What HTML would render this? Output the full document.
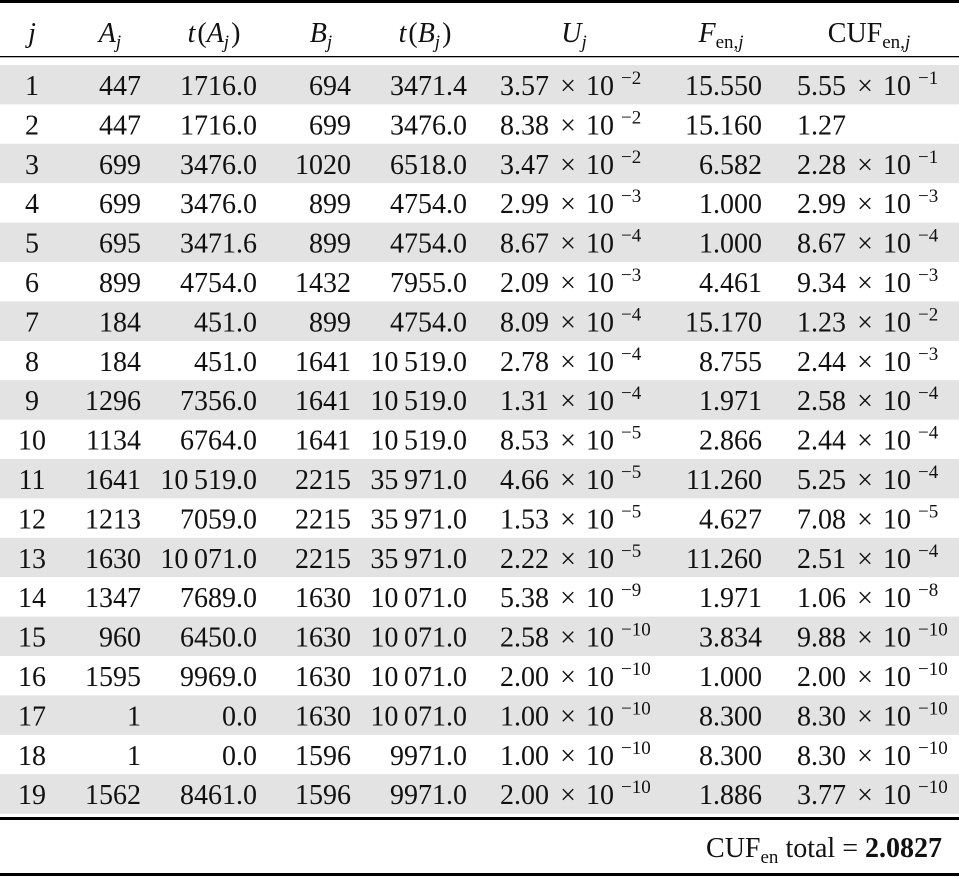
<!DOCTYPE html>
<html><head><meta charset="utf-8"><style>
html,body{margin:0;padding:0;background:#fff}
svg{display:block}
text{font-family:"Liberation Serif",serif;font-size:28px;fill:#111}
.i{font-style:italic}
.s{font-size:19px}
</style></head><body>
<svg width="959" height="877" viewBox="0 0 959 877" xmlns="http://www.w3.org/2000/svg">
<rect x="0" y="0" width="959" height="3" fill="#000"/>
<rect x="0" y="56" width="959" height="1.3" fill="#000"/>
<g fill="#e3e3e3">
<rect x="0" y="65" width="959" height="39.4"/>
<rect x="0" y="143.8" width="959" height="39.4"/>
<rect x="0" y="222.6" width="959" height="39.4"/>
<rect x="0" y="301.4" width="959" height="39.4"/>
<rect x="0" y="380.2" width="959" height="39.4"/>
<rect x="0" y="459" width="959" height="39.4"/>
<rect x="0" y="537.8" width="959" height="39.4"/>
<rect x="0" y="616.6" width="959" height="39.4"/>
<rect x="0" y="695.4" width="959" height="39.4"/>
<rect x="0" y="774.2" width="959" height="39.6"/>
</g>
<rect x="0" y="817" width="959" height="3" fill="#000"/>
<rect x="0" y="873" width="959" height="3" fill="#000"/>
<g>
<text x="32" y="42" text-anchor="middle" class="i">j</text>
<text x="110" y="42" text-anchor="middle"><tspan class="i">A</tspan><tspan class="i s" dy="6">j</tspan></text>
<text x="214" y="42" text-anchor="middle"><tspan class="i">t</tspan><tspan dx="2">(</tspan><tspan class="i">A</tspan><tspan class="i s" dy="6">j</tspan><tspan dy="-6" dx="2">)</tspan></text>
<text x="321" y="42" text-anchor="middle"><tspan class="i">B</tspan><tspan class="i s" dy="6">j</tspan></text>
<text x="425" y="42" text-anchor="middle"><tspan class="i">t</tspan><tspan dx="2">(</tspan><tspan class="i">B</tspan><tspan class="i s" dy="6">j</tspan><tspan dy="-6" dx="2">)</tspan></text>
<text x="574" y="42" text-anchor="middle"><tspan class="i">U</tspan><tspan class="i s" dy="6">j</tspan></text>
<text x="721" y="42" text-anchor="middle"><tspan class="i">F</tspan><tspan class="s" dy="6">en,</tspan><tspan class="i s">j</tspan></text>
<text x="869" y="42" text-anchor="middle">CUF<tspan class="s" dy="6">en,</tspan><tspan class="i s">j</tspan></text>
</g>
<g id="rows"></g>
<text x="942" y="857" text-anchor="end">CUF<tspan class="s" dy="6">en</tspan><tspan dy="-6"> total =  </tspan><tspan font-weight="bold">2.0827</tspan></text>
<script>
var d=[
[1,447,"1716.0",694,"3471.4","3.57",-2,"15.550","5.55",-1],
[2,447,"1716.0",699,"3476.0","8.38",-2,"15.160","1.27",null],
[3,699,"3476.0",1020,"6518.0","3.47",-2,"6.582","2.28",-1],
[4,699,"3476.0",899,"4754.0","2.99",-3,"1.000","2.99",-3],
[5,695,"3471.6",899,"4754.0","8.67",-4,"1.000","8.67",-4],
[6,899,"4754.0",1432,"7955.0","2.09",-3,"4.461","9.34",-3],
[7,184,"451.0",899,"4754.0","8.09",-4,"15.170","1.23",-2],
[8,184,"451.0",1641,"10 519.0","2.78",-4,"8.755","2.44",-3],
[9,1296,"7356.0",1641,"10 519.0","1.31",-4,"1.971","2.58",-4],
[10,1134,"6764.0",1641,"10 519.0","8.53",-5,"2.866","2.44",-4],
[11,1641,"10 519.0",2215,"35 971.0","4.66",-5,"11.260","5.25",-4],
[12,1213,"7059.0",2215,"35 971.0","1.53",-5,"4.627","7.08",-5],
[13,1630,"10 071.0",2215,"35 971.0","2.22",-5,"11.260","2.51",-4],
[14,1347,"7689.0",1630,"10 071.0","5.38",-9,"1.971","1.06",-8],
[15,960,"6450.0",1630,"10 071.0","2.58",-10,"3.834","9.88",-10],
[16,1595,"9969.0",1630,"10 071.0","2.00",-10,"1.000","2.00",-10],
[17,1,"0.0",1630,"10 071.0","1.00",-10,"8.300","8.30",-10],
[18,1,"0.0",1596,"9971.0","1.00",-10,"8.300","8.30",-10],
[19,1562,"8461.0",1596,"9971.0","2.00",-10,"1.886","3.77",-10]];
var NS="http://www.w3.org/2000/svg",g=document.getElementById("rows");
function t(x,y,s,a,cls){var e=document.createElementNS(NS,"text");e.setAttribute("x",x);e.setAttribute("y",y);if(a)e.setAttribute("text-anchor",a);if(cls)e.setAttribute("class",cls);e.textContent=s;g.appendChild(e);}
function sci(x,y,m,ex){t(x,y,m,"start");if(ex===null)return;t(x+68,y,"×","middle");t(x+86,y,"10","start");t(x+121,y-11,"−"+(-ex),"start","s");}
d.forEach(function(r,i){var y=95+i*39.4;
t(32,y,String(r[0]),"middle");t(141,y,String(r[1]),"end");t(257,y,r[2].replace(" ","\u2009"),"end");
t(351,y,String(r[3]),"end");t(467,y,r[4].replace(" ","\u2009"),"end");
sci(500,y,r[5],r[6]);t(762,y,r[7],"end");sci(797,y,r[8],r[9]);});
</script>
</svg>
</body></html>
